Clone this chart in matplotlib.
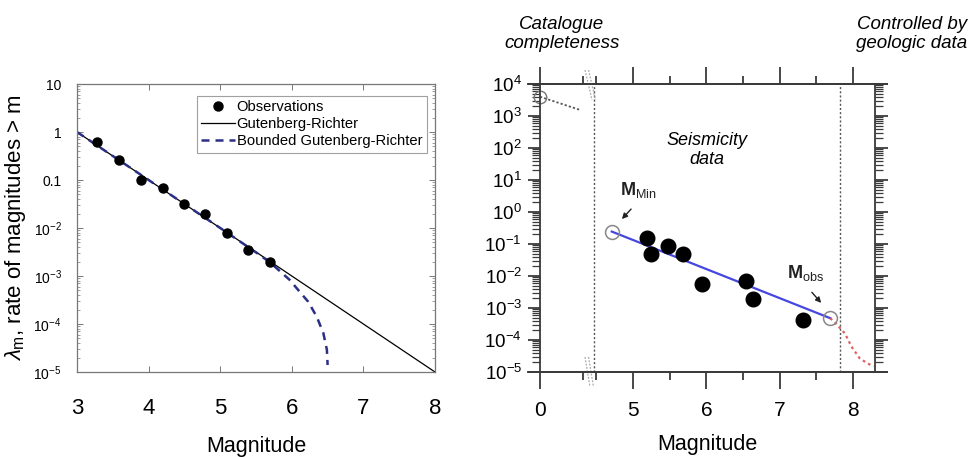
import numpy as np
import matplotlib
matplotlib.use("Agg")
import matplotlib.pyplot as plt
from matplotlib.ticker import FixedLocator, NullFormatter, LogLocator

plt.rcParams['font.family'] = ['Liberation Sans', 'DejaVu Sans']
plt.rcParams['mathtext.fontset'] = 'custom'
plt.rcParams['mathtext.rm'] = 'Liberation Sans'
plt.rcParams['mathtext.it'] = 'Liberation Sans:italic'
plt.rcParams['mathtext.bf'] = 'Liberation Sans:bold'

# ---------------- data: left panel ----------------
obs_mag = [3.28, 3.59, 3.89, 4.20, 4.49, 4.79, 5.09, 5.39, 5.70]
obs_rate = [0.63, 0.26, 0.10, 0.069, 0.031, 0.0195, 0.0078, 0.0035, 0.00195]
gr_mag = [3.0, 8.0]
gr_rate = [1.0, 1e-5]
bgr_mag = [3.0, 4.0, 5.0, 5.5, 5.70, 5.97, 6.11, 6.23, 6.35, 6.44, 6.49, 6.50]
bgr_rate = [1.0, 0.1, 0.01, 3.1e-3, 1.9e-3, 8.3e-4, 4.7e-4, 2.9e-4, 1.4e-4, 6.5e-5, 2.9e-5, 1.4e-5]
left_xticks = [3, 4, 5, 6, 7, 8]
left_yticks = [1e-5, 1e-4, 1e-3, 1e-2, 0.1, 1, 10]
left_yticklabels = ['$10^{-5}$', '$10^{-4}$', '$10^{-3}$', '$10^{-2}$', '0.1', '1', '10']
legend_labels = ['Observations', 'Gutenberg-Richter', 'Bounded Gutenberg-Richter']

# ---------------- data: right panel ----------------
seis_mag = [5.19, 5.25, 5.48, 5.68, 5.94, 6.54, 6.64, 7.32]
seis_rate = [0.15, 0.048, 0.089, 0.048, 0.0055, 0.0069, 0.0019, 0.00042]
mmin_mag, mmin_rate = 4.71, 0.245
mobs_mag, mobs_rate = 7.69, 4.8e-4
tail_mag = [7.69, 7.77, 7.89, 7.98, 8.09, 8.19, 8.28]
tail_rate = [4.8e-4, 3.2e-4, 1.6e-4, 6.2e-5, 2.7e-5, 1.9e-5, 1.5e-5]
low_mag = [0.0, 0.545]
low_rate = [4000.0, 1550.0]
completeness_mag = 4.47
geologic_mag = 7.82
right_xticks = [0, 5, 6, 7, 8]
right_xminor = [0.59, 4.5, 5.5, 6.5, 7.5]
right_yticks = [10.0 ** k for k in range(-5, 5)]
right_yticklabels = ['$10^{%d}$' % k for k in range(-5, 5)]

W, H = 979, 457
fig = plt.figure(figsize=(W / 100, H / 100), dpi=100)

def fx(px):
    return px / W

def fy(py):
    return 1 - py / H

# ================= LEFT PANEL =================
axl = fig.add_axes([fx(77), fy(372), fx(435) - fx(77), fy(84) - fy(372)])
axl.set_yscale('log')
axl.set_xlim(3, 8)
axl.set_ylim(1e-5, 10)
l_gr, = axl.plot(gr_mag, gr_rate, color='black', lw=0.9)
l_bgr, = axl.plot(bgr_mag, bgr_rate, color='#2b2f86', lw=1.8, ls=(0, (3.2, 2.4)))
l_obs, = axl.plot(obs_mag, obs_rate, 'o', color='black', ms=6.5, ls='none')
axl.set_xticks(left_xticks)
axl.set_xticklabels([str(t) for t in left_xticks], fontsize=16)
axl.set_yticks(left_yticks)
axl.set_yticklabels(left_yticklabels, fontsize=10)
axl.yaxis.set_minor_locator(LogLocator(base=10, subs=np.arange(2, 10), numticks=20))
axl.yaxis.set_minor_formatter(NullFormatter())
axl.tick_params(which='both', direction='in', top=True, right=True, color='#777777')
axl.tick_params(which='major', length=4, width=0.7)
axl.tick_params(which='minor', length=2, width=0.5)
axl.tick_params(axis='x', pad=19)
axl.tick_params(axis='y', pad=11)
for s in axl.spines.values():
    s.set_color('#777777')
    s.set_linewidth(0.9)
axl.set_xlabel('Magnitude', fontsize=15.5, labelpad=12)
axl.set_ylabel(r'$\lambda_{\mathrm{m}}$, rate of magnitudes > m', fontsize=16, labelpad=4)
leg = axl.legend([l_obs, l_gr, l_bgr], legend_labels, loc='upper right',
                 bbox_to_anchor=(0.985, 0.97), fontsize=10.6, frameon=True,
                 fancybox=False, handlelength=2.3, handletextpad=0.1,
                 borderpad=0.3, labelspacing=0.22, borderaxespad=0.2)
leg.get_frame().set_edgecolor('#888888')
leg.get_frame().set_linewidth(0.8)

# ================= RIGHT PANEL =================
SHIFT = 3.732

def fwd(m):
    m = np.asarray(m, dtype=float)
    return np.where(m < 2.5, m, m - SHIFT)

def inv(u):
    u = np.asarray(u, dtype=float)
    return np.where(u < 0.68, u, u + SHIFT)

axr = fig.add_axes([fx(540), fy(372), fx(875) - fx(540), fy(84) - fy(372)])
axr.set_yscale('log')
axr.set_xscale('function', functions=(fwd, inv))
axr.set_xlim(0, 8.30)
axr.set_ylim(1e-5, 1e4)

axc = '#3a3a3a'
for s in axr.spines.values():
    s.set_color(axc)
    s.set_linewidth(1.3)
# extend top and bottom axis lines beyond the box
for yy in (0, 1):
    axr.plot([-13 / 335, 1 + 13 / 335], [yy, yy], transform=axr.transAxes,
             color=axc, lw=1.3, clip_on=False, solid_capstyle='butt')

axr.xaxis.set_major_locator(FixedLocator(right_xticks))
axr.set_xticklabels([str(t) for t in right_xticks], fontsize=15)
axr.xaxis.set_minor_locator(FixedLocator(right_xminor))
axr.xaxis.set_minor_formatter(NullFormatter())
axr.yaxis.set_major_locator(FixedLocator(right_yticks))
axr.set_yticklabels(right_yticklabels, fontsize=13.5)
axr.yaxis.set_minor_locator(LogLocator(base=10, subs=np.arange(2, 10), numticks=30))
axr.yaxis.set_minor_formatter(NullFormatter())
axr.tick_params(which='both', direction='out', top=True, right=True, color=axc)
axr.tick_params(axis='x', which='major', length=12, width=1.3, pad=9)
axr.tick_params(axis='x', which='minor', length=6, width=1.3)
axr.tick_params(axis='y', which='major', length=9, width=1.3, pad=4)
axr.tick_params(axis='y', which='minor', length=6, width=0.9)
axr.set_xlabel('Magnitude', fontsize=15.5, labelpad=10)

# vertical dotted lines
axr.axvline(completeness_mag, color='#555555', lw=1.0, ls=(0, (1.5, 1.5)))
axr.axvline(geologic_mag, color='#555555', lw=1.0, ls=(0, (1.5, 1.5)))

# break marks
for dx in (0, 3.5):
    axr.plot([(585 + dx - 540) / 335, (592 + dx - 540) / 335], [(372 - 70) / 288, (372 - 100) / 288],
             transform=axr.transAxes, color='#aaaaaa', lw=0.9, ls=(0, (1.5, 1.2)), clip_on=False)
    axr.plot([(585 + dx - 540) / 335, (590 + dx - 540) / 335], [(372 - 357) / 288, (372 - 387) / 288],
             transform=axr.transAxes, color='#aaaaaa', lw=0.9, ls=(0, (1.5, 1.2)), clip_on=False)

# low-magnitude dotted segment
axr.plot(low_mag, low_rate, color='#555555', lw=1.3, ls=(0, (1.2, 1.2)), clip_on=False)
axr.plot(low_mag[:1], low_rate[:1], 'o', mfc='none', mec='#777777', ms=9, mew=1.0, clip_on=False)

# fitted line and tail
axr.plot([mmin_mag, mobs_mag], [mmin_rate, mobs_rate], color='#4646e0', lw=1.6)
axr.plot(tail_mag, tail_rate, color='#e06060', lw=1.6, ls=(0, (1.2, 1.5)), clip_on=False)
axr.plot(seis_mag, seis_rate, 'o', color='black', ms=10.5, ls='none')
axr.plot([mmin_mag, mobs_mag], [mmin_rate, mobs_rate], 'o', mfc='none', mec='#888888', ms=10, mew=1.1)

# annotations
axr.annotate('', xy=(4.823, 0.52), xytext=(5.0, 1.43),
             arrowprops=dict(arrowstyle='-|>', color='#222222', lw=1.0, mutation_scale=8))
axr.text(5.07, 4.9, r'$\mathbf{M}_{\mathrm{Min}}$', fontsize=13, ha='center', va='center', color='#222222')
axr.annotate('', xy=(7.591, 0.00124), xytext=(7.414, 0.0036),
             arrowprops=dict(arrowstyle='-|>', color='#222222', lw=1.0, mutation_scale=8))
axr.text(7.346, 0.0124, r'$\mathbf{M}_{\mathrm{obs}}$', fontsize=13, ha='center', va='center', color='#222222')

axr.text((707 - 540) / 335, (372 - 150) / 288, 'Seismicity\ndata', transform=axr.transAxes,
         fontsize=13, style='italic', ha='center', va='center', linespacing=1.15)
fig.text(fx(562), fy(34), 'Catalogue\ncompleteness', fontsize=13.5, style='italic',
         ha='center', va='center', linespacing=1.15)
fig.text(fx(912), fy(34), 'Controlled by\ngeologic data', fontsize=13.5, style='italic',
         ha='center', va='center', linespacing=1.15)

fig.savefig('out.png', dpi=100, facecolor='white')
